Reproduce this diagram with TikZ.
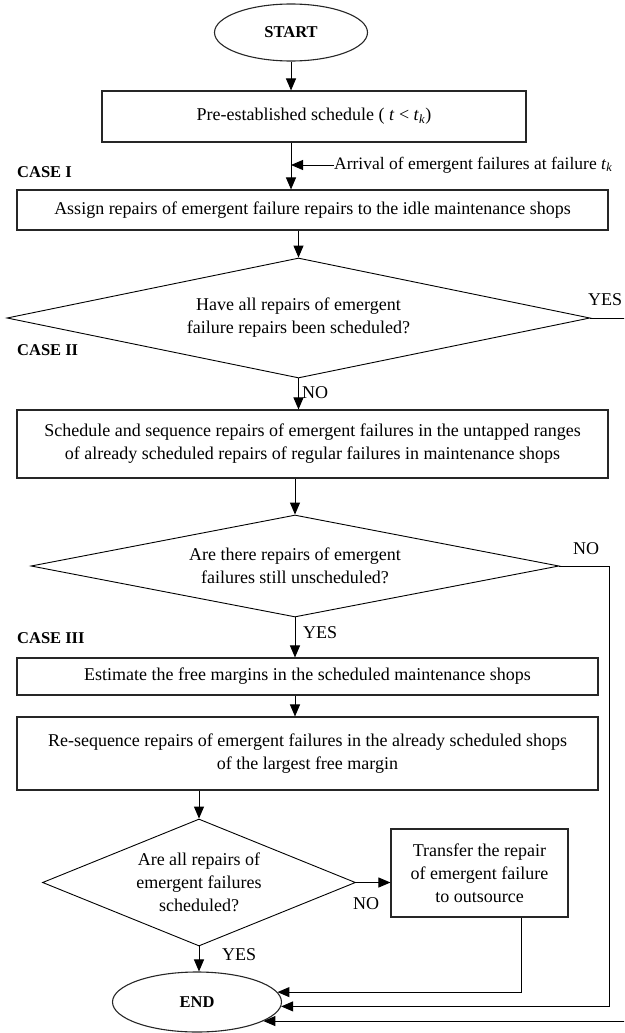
\documentclass[tikz,border=0pt]{standalone}
\usepackage{fontspec}
\setmainfont{Liberation Serif}
\usetikzlibrary{shapes.geometric,arrows.meta}

\begin{document}
\begin{tikzpicture}[x=1pt,y=-1pt]
\def\W{591pt}
\def\w{581pt}
\tikzset{
  every node/.style={font=\fontsize{18}{23}\selectfont},
  box/.style={rectangle,draw=black!85,line width=1.1pt,inner sep=0pt,align=center},
  terminal/.style={ellipse,draw=black!85,line width=1.1pt,inner sep=0pt,font=\fontsize{16.5}{20}\selectfont\bfseries},
  decision/.style={diamond,draw,line width=0.9pt,inner sep=0pt,align=center},
  case/.style={anchor=west,inner sep=0pt,font=\fontsize{16.5}{20}\selectfont\bfseries},
  answer/.style={anchor=west,inner sep=0pt},
  flow/.style={-{Triangle[length=12pt,width=10pt]},line width=1pt}
}
\useasboundingbox (0,0) rectangle (624,1033);
\clip (0,0) rectangle (624,1033);

%TERMINALS
\node[terminal,minimum width=153pt,minimum height=57pt] (START) at (291,32.5) {START};
\node[terminal,minimum width=169pt,minimum height=60pt] (END) at (197,1002) {END};

%STEPS
\node[box,minimum width=424pt,minimum height=51pt] (PRE) at (314,116.5)
  {Pre-established schedule ( \textit{t} < \textit{t}\textsubscript{\textit{k}})};
\node[box,minimum width=\W,minimum height=40pt] (ASSIGN) at (312.5,210)
  {Assign repairs of emergent failure repairs to the idle maintenance shops};
\node[box,minimum width=\W,minimum height=68pt] (SCHED) at (312.5,444)
  {Schedule and sequence repairs of emergent failures in the untapped ranges\\
   of already scheduled repairs of regular failures in maintenance shops};
\node[box,minimum width=\w,minimum height=37pt] (ESTIM) at (307.5,676.5)
  {Estimate the free margins in the scheduled maintenance shops};
\node[box,minimum width=\w,minimum height=73pt] (RESEQ) at (307.5,753.5)
  {Re-sequence repairs of emergent failures in the already scheduled shops\\
   of the largest free margin};
\node[box,minimum width=177pt,minimum height=88pt] (TRANS) at (479.5,873)
  {Transfer the repair\\of emergent failure\\to outsource};

%DECISIONS
\node[decision,aspect=4.86,minimum width=583pt,minimum height=120pt] (HAVE) at (298.5,318)
  {Have all repairs of emergent\\failure repairs been scheduled?};
\node[decision,aspect=5.2,minimum width=528pt,minimum height=102pt] (ARE) at (295,566)
  {Are there repairs of emergent\\failures still unscheduled?};
\node[decision,aspect=2.46,minimum width=313pt,minimum height=127pt] (ALL) at (199,882.5)
  {Are all repairs of\\emergent failures\\scheduled?};

%LABELS
\node[case] (CASEI) at (17,172) {CASE I};
\node[case] (CASEII) at (17,350) {CASE II};
\node[case] (CASEIII) at (17,638) {CASE III};
\node[answer,font=\fontsize{17.5}{22}\selectfont] (ARRIVAL) at (334,165)
  {Arrival of emergent failures at failure \textit{t}\textsubscript{\textit{k}}};
\node[answer] (YES1) at (588,300) {YES};
\node[answer] (NO1) at (302,393) {NO};
\node[answer] (NO2) at (573,549) {NO};
\node[answer] (YES2) at (303,633) {YES};
\node[answer] (NO3) at (353,904) {NO};
\node[answer] (YES3) at (222,955) {YES};

%PATHS
\draw[flow] (START) -- (START |- PRE.north);
\draw[flow] (START |- PRE.south) -- (START |- ASSIGN.north);
\draw[flow] (ARRIVAL.west) -- (ARRIVAL.west -| START);
\draw[flow] (HAVE.north |- ASSIGN.south) -- (HAVE.north);
\draw[flow] (HAVE.south) -- (HAVE.south |- SCHED.north);
\draw[flow] (ARE.north |- SCHED.south) -- (ARE.north);
\draw[flow] (ARE.south) -- (ARE.south |- ESTIM.north);
\draw[flow] (ARE.south |- ESTIM.south) -- (ARE.south |- RESEQ.north);
\draw[flow] (ALL.north |- RESEQ.south) -- (ALL.north);
\draw[flow] (ALL.east) -- (ALL.east -| TRANS.west);
\draw[flow] (ALL.south) -- (ALL.south |- END.north);
%%to END
\draw[flow] ([xshift=42pt]TRANS.south) |- (END.7);
\draw[flow] (ARE.east) -- ++(50,0) |- (END.-3);
\draw[flow] (HAVE.east) -- ++(60,0) |- (END.-16);

\end{tikzpicture}
\end{document}
